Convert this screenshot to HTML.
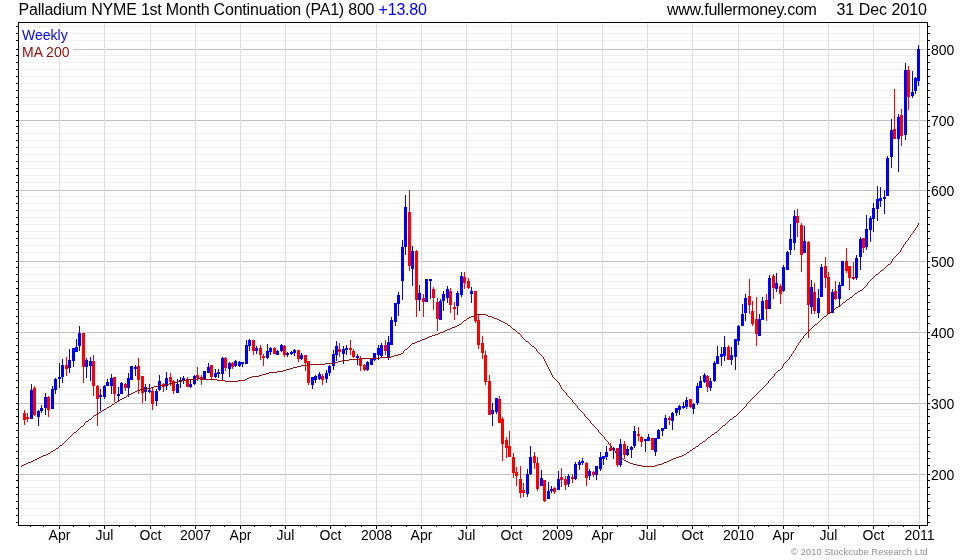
<!DOCTYPE html>
<html><head><meta charset="utf-8"><title>Palladium NYME 1st Month Continuation (PA1)</title>
<style>
html,body{margin:0;padding:0;background:#fff;}
body{width:980px;height:560px;overflow:hidden;position:relative;font-family:"Liberation Sans",Arial,sans-serif;color:#000;}
#chart{position:absolute;left:0;top:0;width:980px;height:560px;}
.t{position:absolute;white-space:nowrap;line-height:1;}
.title{font-size:16px;top:1.5px;}
.ax{font-size:14px;}
.xl{font-size:14px;top:528px;width:60px;text-align:center;}
.leg{font-size:14px;left:22px;}
.copy{font-size:9.3px;color:#8c8c8c;letter-spacing:0.1px;top:548px;left:791px;}
</style></head><body>
<svg id="chart" width="980" height="560" viewBox="0 0 980 560" shape-rendering="crispEdges">
<g fill="#f0f0f0">
<rect x="20" y="26" width="906" height="1"/>
<rect x="20" y="33" width="906" height="1"/>
<rect x="20" y="40" width="906" height="1"/>
<rect x="20" y="55" width="906" height="1"/>
<rect x="20" y="62" width="906" height="1"/>
<rect x="20" y="69" width="906" height="1"/>
<rect x="20" y="76" width="906" height="1"/>
<rect x="20" y="83" width="906" height="1"/>
<rect x="20" y="90" width="906" height="1"/>
<rect x="20" y="97" width="906" height="1"/>
<rect x="20" y="104" width="906" height="1"/>
<rect x="20" y="111" width="906" height="1"/>
<rect x="20" y="126" width="906" height="1"/>
<rect x="20" y="133" width="906" height="1"/>
<rect x="20" y="140" width="906" height="1"/>
<rect x="20" y="147" width="906" height="1"/>
<rect x="20" y="154" width="906" height="1"/>
<rect x="20" y="161" width="906" height="1"/>
<rect x="20" y="168" width="906" height="1"/>
<rect x="20" y="175" width="906" height="1"/>
<rect x="20" y="182" width="906" height="1"/>
<rect x="20" y="196" width="906" height="1"/>
<rect x="20" y="203" width="906" height="1"/>
<rect x="20" y="210" width="906" height="1"/>
<rect x="20" y="217" width="906" height="1"/>
<rect x="20" y="224" width="906" height="1"/>
<rect x="20" y="231" width="906" height="1"/>
<rect x="20" y="238" width="906" height="1"/>
<rect x="20" y="245" width="906" height="1"/>
<rect x="20" y="252" width="906" height="1"/>
<rect x="20" y="267" width="906" height="1"/>
<rect x="20" y="274" width="906" height="1"/>
<rect x="20" y="281" width="906" height="1"/>
<rect x="20" y="288" width="906" height="1"/>
<rect x="20" y="295" width="906" height="1"/>
<rect x="20" y="302" width="906" height="1"/>
<rect x="20" y="309" width="906" height="1"/>
<rect x="20" y="316" width="906" height="1"/>
<rect x="20" y="323" width="906" height="1"/>
<rect x="20" y="338" width="906" height="1"/>
<rect x="20" y="345" width="906" height="1"/>
<rect x="20" y="352" width="906" height="1"/>
<rect x="20" y="359" width="906" height="1"/>
<rect x="20" y="366" width="906" height="1"/>
<rect x="20" y="373" width="906" height="1"/>
<rect x="20" y="380" width="906" height="1"/>
<rect x="20" y="387" width="906" height="1"/>
<rect x="20" y="394" width="906" height="1"/>
<rect x="20" y="409" width="906" height="1"/>
<rect x="20" y="416" width="906" height="1"/>
<rect x="20" y="423" width="906" height="1"/>
<rect x="20" y="430" width="906" height="1"/>
<rect x="20" y="437" width="906" height="1"/>
<rect x="20" y="444" width="906" height="1"/>
<rect x="20" y="451" width="906" height="1"/>
<rect x="20" y="458" width="906" height="1"/>
<rect x="20" y="465" width="906" height="1"/>
<rect x="20" y="480" width="906" height="1"/>
<rect x="20" y="487" width="906" height="1"/>
<rect x="20" y="494" width="906" height="1"/>
<rect x="20" y="501" width="906" height="1"/>
<rect x="20" y="508" width="906" height="1"/>
<rect x="20" y="515" width="906" height="1"/>
<rect x="20" y="522" width="906" height="1"/>
</g>
<g fill="#c0c0c0">
<rect x="19" y="49" width="908" height="1"/>
<rect x="19" y="120" width="908" height="1"/>
<rect x="19" y="190" width="908" height="1"/>
<rect x="19" y="261" width="908" height="1"/>
<rect x="19" y="332" width="908" height="1"/>
<rect x="19" y="403" width="908" height="1"/>
<rect x="19" y="474" width="908" height="1"/>
</g>
<g fill="#dedede">
<rect x="59" y="23" width="1" height="501"/>
<rect x="104" y="23" width="1" height="501"/>
<rect x="150" y="23" width="1" height="501"/>
<rect x="195" y="23" width="1" height="501"/>
<rect x="240" y="23" width="1" height="501"/>
<rect x="285" y="23" width="1" height="501"/>
<rect x="330" y="23" width="1" height="501"/>
<rect x="376" y="23" width="1" height="501"/>
<rect x="421" y="23" width="1" height="501"/>
<rect x="466" y="23" width="1" height="501"/>
<rect x="511" y="23" width="1" height="501"/>
<rect x="557" y="23" width="1" height="501"/>
<rect x="602" y="23" width="1" height="501"/>
<rect x="647" y="23" width="1" height="501"/>
<rect x="692" y="23" width="1" height="501"/>
<rect x="738" y="23" width="1" height="501"/>
<rect x="783" y="23" width="1" height="501"/>
<rect x="828" y="23" width="1" height="501"/>
<rect x="873" y="23" width="1" height="501"/>
<rect x="919" y="23" width="1" height="501"/>
</g>
<rect x="20" y="28" width="51" height="15" fill="#fff"/><rect x="20" y="45" width="53" height="13" fill="#fff"/>
<g fill="#000">
<rect x="18" y="22" width="910" height="1"/>
<rect x="18" y="525" width="910" height="1"/>
<rect x="18" y="22" width="1" height="504"/>
<rect x="927" y="22" width="1" height="504"/>
<rect x="16" y="26" width="2" height="1"/>
<rect x="928" y="26" width="2" height="1"/>
<rect x="16" y="33" width="2" height="1"/>
<rect x="928" y="33" width="2" height="1"/>
<rect x="16" y="40" width="2" height="1"/>
<rect x="928" y="40" width="2" height="1"/>
<rect x="16" y="55" width="2" height="1"/>
<rect x="928" y="55" width="2" height="1"/>
<rect x="16" y="62" width="2" height="1"/>
<rect x="928" y="62" width="2" height="1"/>
<rect x="16" y="69" width="2" height="1"/>
<rect x="928" y="69" width="2" height="1"/>
<rect x="16" y="76" width="2" height="1"/>
<rect x="928" y="76" width="2" height="1"/>
<rect x="16" y="83" width="2" height="1"/>
<rect x="928" y="83" width="2" height="1"/>
<rect x="16" y="90" width="2" height="1"/>
<rect x="928" y="90" width="2" height="1"/>
<rect x="16" y="97" width="2" height="1"/>
<rect x="928" y="97" width="2" height="1"/>
<rect x="16" y="104" width="2" height="1"/>
<rect x="928" y="104" width="2" height="1"/>
<rect x="16" y="111" width="2" height="1"/>
<rect x="928" y="111" width="2" height="1"/>
<rect x="16" y="126" width="2" height="1"/>
<rect x="928" y="126" width="2" height="1"/>
<rect x="16" y="133" width="2" height="1"/>
<rect x="928" y="133" width="2" height="1"/>
<rect x="16" y="140" width="2" height="1"/>
<rect x="928" y="140" width="2" height="1"/>
<rect x="16" y="147" width="2" height="1"/>
<rect x="928" y="147" width="2" height="1"/>
<rect x="16" y="154" width="2" height="1"/>
<rect x="928" y="154" width="2" height="1"/>
<rect x="16" y="161" width="2" height="1"/>
<rect x="928" y="161" width="2" height="1"/>
<rect x="16" y="168" width="2" height="1"/>
<rect x="928" y="168" width="2" height="1"/>
<rect x="16" y="175" width="2" height="1"/>
<rect x="928" y="175" width="2" height="1"/>
<rect x="16" y="182" width="2" height="1"/>
<rect x="928" y="182" width="2" height="1"/>
<rect x="16" y="196" width="2" height="1"/>
<rect x="928" y="196" width="2" height="1"/>
<rect x="16" y="203" width="2" height="1"/>
<rect x="928" y="203" width="2" height="1"/>
<rect x="16" y="210" width="2" height="1"/>
<rect x="928" y="210" width="2" height="1"/>
<rect x="16" y="217" width="2" height="1"/>
<rect x="928" y="217" width="2" height="1"/>
<rect x="16" y="224" width="2" height="1"/>
<rect x="928" y="224" width="2" height="1"/>
<rect x="16" y="231" width="2" height="1"/>
<rect x="928" y="231" width="2" height="1"/>
<rect x="16" y="238" width="2" height="1"/>
<rect x="928" y="238" width="2" height="1"/>
<rect x="16" y="245" width="2" height="1"/>
<rect x="928" y="245" width="2" height="1"/>
<rect x="16" y="252" width="2" height="1"/>
<rect x="928" y="252" width="2" height="1"/>
<rect x="16" y="267" width="2" height="1"/>
<rect x="928" y="267" width="2" height="1"/>
<rect x="16" y="274" width="2" height="1"/>
<rect x="928" y="274" width="2" height="1"/>
<rect x="16" y="281" width="2" height="1"/>
<rect x="928" y="281" width="2" height="1"/>
<rect x="16" y="288" width="2" height="1"/>
<rect x="928" y="288" width="2" height="1"/>
<rect x="16" y="295" width="2" height="1"/>
<rect x="928" y="295" width="2" height="1"/>
<rect x="16" y="302" width="2" height="1"/>
<rect x="928" y="302" width="2" height="1"/>
<rect x="16" y="309" width="2" height="1"/>
<rect x="928" y="309" width="2" height="1"/>
<rect x="16" y="316" width="2" height="1"/>
<rect x="928" y="316" width="2" height="1"/>
<rect x="16" y="323" width="2" height="1"/>
<rect x="928" y="323" width="2" height="1"/>
<rect x="16" y="338" width="2" height="1"/>
<rect x="928" y="338" width="2" height="1"/>
<rect x="16" y="345" width="2" height="1"/>
<rect x="928" y="345" width="2" height="1"/>
<rect x="16" y="352" width="2" height="1"/>
<rect x="928" y="352" width="2" height="1"/>
<rect x="16" y="359" width="2" height="1"/>
<rect x="928" y="359" width="2" height="1"/>
<rect x="16" y="366" width="2" height="1"/>
<rect x="928" y="366" width="2" height="1"/>
<rect x="16" y="373" width="2" height="1"/>
<rect x="928" y="373" width="2" height="1"/>
<rect x="16" y="380" width="2" height="1"/>
<rect x="928" y="380" width="2" height="1"/>
<rect x="16" y="387" width="2" height="1"/>
<rect x="928" y="387" width="2" height="1"/>
<rect x="16" y="394" width="2" height="1"/>
<rect x="928" y="394" width="2" height="1"/>
<rect x="16" y="409" width="2" height="1"/>
<rect x="928" y="409" width="2" height="1"/>
<rect x="16" y="416" width="2" height="1"/>
<rect x="928" y="416" width="2" height="1"/>
<rect x="16" y="423" width="2" height="1"/>
<rect x="928" y="423" width="2" height="1"/>
<rect x="16" y="430" width="2" height="1"/>
<rect x="928" y="430" width="2" height="1"/>
<rect x="16" y="437" width="2" height="1"/>
<rect x="928" y="437" width="2" height="1"/>
<rect x="16" y="444" width="2" height="1"/>
<rect x="928" y="444" width="2" height="1"/>
<rect x="16" y="451" width="2" height="1"/>
<rect x="928" y="451" width="2" height="1"/>
<rect x="16" y="458" width="2" height="1"/>
<rect x="928" y="458" width="2" height="1"/>
<rect x="16" y="465" width="2" height="1"/>
<rect x="928" y="465" width="2" height="1"/>
<rect x="16" y="480" width="2" height="1"/>
<rect x="928" y="480" width="2" height="1"/>
<rect x="16" y="487" width="2" height="1"/>
<rect x="928" y="487" width="2" height="1"/>
<rect x="16" y="494" width="2" height="1"/>
<rect x="928" y="494" width="2" height="1"/>
<rect x="16" y="501" width="2" height="1"/>
<rect x="928" y="501" width="2" height="1"/>
<rect x="16" y="508" width="2" height="1"/>
<rect x="928" y="508" width="2" height="1"/>
<rect x="16" y="515" width="2" height="1"/>
<rect x="928" y="515" width="2" height="1"/>
<rect x="16" y="522" width="2" height="1"/>
<rect x="928" y="522" width="2" height="1"/>
<rect x="16" y="49" width="2" height="1"/>
<rect x="928" y="49" width="2" height="1"/>
<rect x="16" y="120" width="2" height="1"/>
<rect x="928" y="120" width="2" height="1"/>
<rect x="16" y="190" width="2" height="1"/>
<rect x="928" y="190" width="2" height="1"/>
<rect x="16" y="261" width="2" height="1"/>
<rect x="928" y="261" width="2" height="1"/>
<rect x="16" y="332" width="2" height="1"/>
<rect x="928" y="332" width="2" height="1"/>
<rect x="16" y="403" width="2" height="1"/>
<rect x="928" y="403" width="2" height="1"/>
<rect x="16" y="474" width="2" height="1"/>
<rect x="928" y="474" width="2" height="1"/>
<rect x="30" y="526" width="1" height="1"/>
<rect x="43" y="526" width="1" height="1"/>
<rect x="73" y="526" width="1" height="1"/>
<rect x="89" y="526" width="1" height="1"/>
<rect x="119" y="526" width="1" height="1"/>
<rect x="135" y="526" width="1" height="1"/>
<rect x="164" y="526" width="1" height="1"/>
<rect x="180" y="526" width="1" height="1"/>
<rect x="210" y="526" width="1" height="1"/>
<rect x="224" y="526" width="1" height="1"/>
<rect x="254" y="526" width="1" height="1"/>
<rect x="270" y="526" width="1" height="1"/>
<rect x="300" y="526" width="1" height="1"/>
<rect x="316" y="526" width="1" height="1"/>
<rect x="345" y="526" width="1" height="1"/>
<rect x="361" y="526" width="1" height="1"/>
<rect x="391" y="526" width="1" height="1"/>
<rect x="406" y="526" width="1" height="1"/>
<rect x="436" y="526" width="1" height="1"/>
<rect x="451" y="526" width="1" height="1"/>
<rect x="482" y="526" width="1" height="1"/>
<rect x="497" y="526" width="1" height="1"/>
<rect x="527" y="526" width="1" height="1"/>
<rect x="541" y="526" width="1" height="1"/>
<rect x="573" y="526" width="1" height="1"/>
<rect x="587" y="526" width="1" height="1"/>
<rect x="617" y="526" width="1" height="1"/>
<rect x="631" y="526" width="1" height="1"/>
<rect x="663" y="526" width="1" height="1"/>
<rect x="677" y="526" width="1" height="1"/>
<rect x="708" y="526" width="1" height="1"/>
<rect x="722" y="526" width="1" height="1"/>
<rect x="754" y="526" width="1" height="1"/>
<rect x="768" y="526" width="1" height="1"/>
<rect x="798" y="526" width="1" height="1"/>
<rect x="813" y="526" width="1" height="1"/>
<rect x="844" y="526" width="1" height="1"/>
<rect x="858" y="526" width="1" height="1"/>
<rect x="888" y="526" width="1" height="1"/>
<rect x="903" y="526" width="1" height="1"/>
<rect x="59" y="526" width="1" height="3"/>
<rect x="104" y="526" width="1" height="3"/>
<rect x="150" y="526" width="1" height="3"/>
<rect x="195" y="526" width="1" height="3"/>
<rect x="240" y="526" width="1" height="3"/>
<rect x="285" y="526" width="1" height="3"/>
<rect x="330" y="526" width="1" height="3"/>
<rect x="376" y="526" width="1" height="3"/>
<rect x="421" y="526" width="1" height="3"/>
<rect x="466" y="526" width="1" height="3"/>
<rect x="511" y="526" width="1" height="3"/>
<rect x="557" y="526" width="1" height="3"/>
<rect x="602" y="526" width="1" height="3"/>
<rect x="647" y="526" width="1" height="3"/>
<rect x="692" y="526" width="1" height="3"/>
<rect x="738" y="526" width="1" height="3"/>
<rect x="783" y="526" width="1" height="3"/>
<rect x="828" y="526" width="1" height="3"/>
<rect x="873" y="526" width="1" height="3"/>
<rect x="919" y="526" width="1" height="3"/>
</g>
<g fill="#ff0000">
<rect x="24" y="410" width="1" height="15"/><rect x="23" y="413" width="3" height="7"/>
<rect x="27" y="413" width="1" height="9"/><rect x="26" y="417" width="3" height="2"/>
</g>
<g fill="#0000ff">
<rect x="31" y="384" width="1" height="35"/><rect x="30" y="390" width="3" height="29"/>
</g>
<g fill="#ff0000">
<rect x="34" y="386" width="1" height="30"/><rect x="33" y="388" width="3" height="27"/>
</g>
<g fill="#0000ff">
<rect x="38" y="410" width="1" height="16"/><rect x="37" y="411" width="3" height="6"/>
<rect x="41" y="405" width="1" height="8"/><rect x="40" y="408" width="3" height="3"/>
<rect x="45" y="393" width="1" height="22"/><rect x="44" y="397" width="3" height="11"/>
</g>
<g fill="#ff0000">
<rect x="48" y="396" width="1" height="21"/><rect x="47" y="397" width="3" height="13"/>
</g>
<g fill="#0000ff">
<rect x="52" y="386" width="1" height="23"/><rect x="51" y="389" width="3" height="20"/>
<rect x="55" y="378" width="1" height="16"/><rect x="54" y="379" width="3" height="11"/>
<rect x="59" y="363" width="1" height="25"/><rect x="58" y="377" width="3" height="2"/>
<rect x="62" y="359" width="1" height="24"/><rect x="61" y="365" width="3" height="12"/>
</g>
<g fill="#ff0000">
<rect x="66" y="357" width="1" height="19"/><rect x="65" y="365" width="3" height="4"/>
</g>
<g fill="#0000ff">
<rect x="69" y="349" width="1" height="24"/><rect x="68" y="360" width="3" height="8"/>
<rect x="73" y="348" width="1" height="19"/><rect x="72" y="348" width="3" height="13"/>
<rect x="76" y="339" width="1" height="13"/><rect x="75" y="347" width="3" height="5"/>
<rect x="79" y="326" width="1" height="25"/><rect x="78" y="333" width="3" height="13"/>
</g>
<g fill="#ff0000">
<rect x="83" y="333" width="1" height="50"/><rect x="82" y="333" width="3" height="34"/>
</g>
<g fill="#0000ff">
<rect x="86" y="358" width="1" height="20"/><rect x="85" y="360" width="3" height="7"/>
<rect x="90" y="357" width="1" height="24"/><rect x="89" y="361" width="3" height="5"/>
</g>
<g fill="#ff0000">
<rect x="93" y="355" width="1" height="41"/><rect x="92" y="361" width="3" height="25"/>
<rect x="97" y="385" width="1" height="41"/><rect x="96" y="386" width="3" height="13"/>
</g>
<g fill="#0000ff">
<rect x="100" y="389" width="1" height="22"/><rect x="99" y="395" width="3" height="2"/>
<rect x="104" y="385" width="1" height="14"/><rect x="103" y="386" width="3" height="11"/>
<rect x="107" y="379" width="1" height="7"/><rect x="106" y="382" width="3" height="4"/>
<rect x="111" y="374" width="1" height="20"/><rect x="110" y="378" width="3" height="8"/>
</g>
<g fill="#ff0000">
<rect x="114" y="377" width="1" height="25"/><rect x="113" y="377" width="3" height="17"/>
</g>
<g fill="#0000ff">
<rect x="118" y="387" width="1" height="14"/><rect x="117" y="394" width="3" height="2"/>
<rect x="121" y="382" width="1" height="12"/><rect x="120" y="383" width="3" height="11"/>
</g>
<g fill="#ff0000">
<rect x="125" y="383" width="1" height="8"/><rect x="124" y="384" width="3" height="4"/>
</g>
<g fill="#0000ff">
<rect x="128" y="373" width="1" height="24"/><rect x="127" y="378" width="3" height="10"/>
<rect x="131" y="366" width="1" height="14"/><rect x="130" y="366" width="3" height="14"/>
<rect x="135" y="365" width="1" height="11"/><rect x="134" y="367" width="3" height="2"/>
</g>
<g fill="#ff0000">
<rect x="138" y="358" width="1" height="36"/><rect x="137" y="366" width="3" height="14"/>
<rect x="142" y="376" width="1" height="27"/><rect x="141" y="376" width="3" height="17"/>
</g>
<g fill="#0000ff">
<rect x="145" y="384" width="1" height="17"/><rect x="144" y="387" width="3" height="5"/>
<rect x="149" y="384" width="1" height="9"/><rect x="148" y="390" width="3" height="2"/>
</g>
<g fill="#ff0000">
<rect x="152" y="388" width="1" height="22"/><rect x="151" y="391" width="3" height="13"/>
</g>
<g fill="#0000ff">
<rect x="156" y="389" width="1" height="17"/><rect x="155" y="391" width="3" height="10"/>
<rect x="159" y="375" width="1" height="16"/><rect x="158" y="381" width="3" height="9"/>
</g>
<g fill="#ff0000">
<rect x="163" y="383" width="1" height="9"/><rect x="162" y="384" width="3" height="3"/>
</g>
<g fill="#0000ff">
<rect x="166" y="372" width="1" height="18"/><rect x="165" y="378" width="3" height="8"/>
</g>
<g fill="#ff0000">
<rect x="170" y="373" width="1" height="13"/><rect x="169" y="377" width="3" height="5"/>
<rect x="173" y="380" width="1" height="14"/><rect x="172" y="381" width="3" height="10"/>
</g>
<g fill="#0000ff">
<rect x="177" y="379" width="1" height="14"/><rect x="176" y="384" width="3" height="9"/>
<rect x="180" y="377" width="1" height="11"/><rect x="179" y="380" width="3" height="2"/>
<rect x="183" y="376" width="1" height="8"/><rect x="182" y="378" width="3" height="2"/>
</g>
<g fill="#ff0000">
<rect x="187" y="377" width="1" height="10"/><rect x="186" y="379" width="3" height="8"/>
</g>
<g fill="#0000ff">
<rect x="190" y="380" width="1" height="8"/><rect x="189" y="384" width="3" height="3"/>
<rect x="194" y="375" width="1" height="10"/><rect x="193" y="376" width="3" height="8"/>
</g>
<g fill="#ff0000">
<rect x="197" y="367" width="1" height="14"/><rect x="196" y="375" width="3" height="3"/>
<rect x="201" y="375" width="1" height="10"/><rect x="200" y="377" width="3" height="2"/>
</g>
<g fill="#0000ff">
<rect x="204" y="371" width="1" height="8"/><rect x="203" y="371" width="3" height="8"/>
<rect x="208" y="363" width="1" height="10"/><rect x="207" y="367" width="3" height="6"/>
</g>
<g fill="#ff0000">
<rect x="211" y="365" width="1" height="14"/><rect x="210" y="365" width="3" height="12"/>
</g>
<g fill="#0000ff">
<rect x="215" y="369" width="1" height="9"/><rect x="214" y="373" width="3" height="4"/>
<rect x="218" y="369" width="1" height="9"/><rect x="217" y="372" width="3" height="2"/>
<rect x="222" y="357" width="1" height="23"/><rect x="221" y="358" width="3" height="16"/>
</g>
<g fill="#ff0000">
<rect x="225" y="357" width="1" height="14"/><rect x="224" y="358" width="3" height="10"/>
</g>
<g fill="#0000ff">
<rect x="229" y="362" width="1" height="15"/><rect x="228" y="363" width="3" height="6"/>
</g>
<g fill="#ff0000">
<rect x="232" y="362" width="1" height="7"/><rect x="231" y="363" width="3" height="4"/>
</g>
<g fill="#0000ff">
<rect x="235" y="360" width="1" height="7"/><rect x="234" y="361" width="3" height="5"/>
<rect x="239" y="361" width="1" height="6"/><rect x="238" y="362" width="3" height="4"/>
<rect x="242" y="362" width="1" height="5"/><rect x="241" y="362" width="3" height="2"/>
<rect x="246" y="340" width="1" height="24"/><rect x="245" y="345" width="3" height="19"/>
<rect x="249" y="339" width="1" height="12"/><rect x="248" y="340" width="3" height="6"/>
</g>
<g fill="#ff0000">
<rect x="253" y="340" width="1" height="15"/><rect x="252" y="340" width="3" height="11"/>
</g>
<g fill="#0000ff">
<rect x="256" y="346" width="1" height="8"/><rect x="255" y="348" width="3" height="3"/>
</g>
<g fill="#ff0000">
<rect x="260" y="345" width="1" height="15"/><rect x="259" y="348" width="3" height="7"/>
<rect x="263" y="354" width="1" height="12"/><rect x="262" y="356" width="3" height="2"/>
</g>
<g fill="#0000ff">
<rect x="267" y="344" width="1" height="15"/><rect x="266" y="351" width="3" height="7"/>
<rect x="270" y="347" width="1" height="8"/><rect x="269" y="348" width="3" height="4"/>
</g>
<g fill="#ff0000">
<rect x="274" y="347" width="1" height="7"/><rect x="273" y="348" width="3" height="6"/>
</g>
<g fill="#0000ff">
<rect x="277" y="350" width="1" height="5"/><rect x="276" y="351" width="3" height="4"/>
<rect x="281" y="344" width="1" height="8"/><rect x="280" y="345" width="3" height="6"/>
</g>
<g fill="#ff0000">
<rect x="284" y="345" width="1" height="12"/><rect x="283" y="346" width="3" height="9"/>
</g>
<g fill="#0000ff">
<rect x="287" y="352" width="1" height="5"/><rect x="286" y="353" width="3" height="2"/>
<rect x="291" y="351" width="1" height="4"/><rect x="290" y="352" width="3" height="2"/>
<rect x="294" y="349" width="1" height="7"/><rect x="293" y="350" width="3" height="3"/>
</g>
<g fill="#ff0000">
<rect x="298" y="350" width="1" height="12"/><rect x="297" y="350" width="3" height="9"/>
</g>
<g fill="#0000ff">
<rect x="301" y="353" width="1" height="7"/><rect x="300" y="355" width="3" height="4"/>
</g>
<g fill="#ff0000">
<rect x="305" y="355" width="1" height="16"/><rect x="304" y="355" width="3" height="8"/>
<rect x="308" y="361" width="1" height="24"/><rect x="307" y="361" width="3" height="22"/>
</g>
<g fill="#0000ff">
<rect x="312" y="377" width="1" height="12"/><rect x="311" y="377" width="3" height="8"/>
<rect x="315" y="375" width="1" height="8"/><rect x="314" y="376" width="3" height="4"/>
<rect x="319" y="372" width="1" height="8"/><rect x="318" y="374" width="3" height="5"/>
</g>
<g fill="#ff0000">
<rect x="322" y="374" width="1" height="11"/><rect x="321" y="376" width="3" height="4"/>
</g>
<g fill="#0000ff">
<rect x="326" y="370" width="1" height="13"/><rect x="325" y="373" width="3" height="6"/>
<rect x="329" y="365" width="1" height="11"/><rect x="328" y="366" width="3" height="7"/>
<rect x="333" y="350" width="1" height="20"/><rect x="332" y="354" width="3" height="12"/>
<rect x="336" y="341" width="1" height="20"/><rect x="335" y="346" width="3" height="9"/>
</g>
<g fill="#ff0000">
<rect x="339" y="343" width="1" height="14"/><rect x="338" y="349" width="3" height="3"/>
</g>
<g fill="#0000ff">
<rect x="343" y="346" width="1" height="18"/><rect x="342" y="349" width="3" height="5"/>
<rect x="346" y="345" width="1" height="10"/><rect x="345" y="348" width="3" height="2"/>
</g>
<g fill="#ff0000">
<rect x="350" y="340" width="1" height="15"/><rect x="349" y="348" width="3" height="2"/>
<rect x="353" y="349" width="1" height="9"/><rect x="352" y="351" width="3" height="6"/>
</g>
<g fill="#0000ff">
<rect x="357" y="354" width="1" height="11"/><rect x="356" y="356" width="3" height="2"/>
</g>
<g fill="#ff0000">
<rect x="360" y="356" width="1" height="15"/><rect x="359" y="358" width="3" height="8"/>
<rect x="364" y="364" width="1" height="7"/><rect x="363" y="365" width="3" height="5"/>
</g>
<g fill="#0000ff">
<rect x="367" y="361" width="1" height="10"/><rect x="366" y="362" width="3" height="8"/>
<rect x="371" y="359" width="1" height="6"/><rect x="370" y="359" width="3" height="6"/>
<rect x="374" y="353" width="1" height="8"/><rect x="373" y="353" width="3" height="7"/>
<rect x="378" y="345" width="1" height="15"/><rect x="377" y="348" width="3" height="7"/>
<rect x="381" y="343" width="1" height="14"/><rect x="380" y="345" width="3" height="11"/>
</g>
<g fill="#ff0000">
<rect x="385" y="340" width="1" height="15"/><rect x="384" y="345" width="3" height="6"/>
</g>
<g fill="#0000ff">
<rect x="388" y="336" width="1" height="24"/><rect x="387" y="342" width="3" height="16"/>
<rect x="391" y="317" width="1" height="28"/><rect x="390" y="320" width="3" height="25"/>
<rect x="395" y="303" width="1" height="23"/><rect x="394" y="303" width="3" height="19"/>
<rect x="398" y="292" width="1" height="24"/><rect x="397" y="295" width="3" height="9"/>
<rect x="402" y="240" width="1" height="60"/><rect x="401" y="247" width="3" height="34"/>
<rect x="405" y="195" width="1" height="60"/><rect x="404" y="207" width="3" height="40"/>
</g>
<g fill="#ff0000">
<rect x="409" y="190" width="1" height="81"/><rect x="408" y="212" width="3" height="54"/>
</g>
<g fill="#0000ff">
<rect x="412" y="246" width="1" height="40"/><rect x="411" y="251" width="3" height="18"/>
</g>
<g fill="#ff0000">
<rect x="416" y="250" width="1" height="67"/><rect x="415" y="251" width="3" height="49"/>
</g>
<g fill="#0000ff">
<rect x="419" y="285" width="1" height="26"/><rect x="418" y="293" width="3" height="7"/>
</g>
<g fill="#ff0000">
<rect x="423" y="294" width="1" height="23"/><rect x="422" y="298" width="3" height="4"/>
</g>
<g fill="#0000ff">
<rect x="426" y="279" width="1" height="23"/><rect x="425" y="279" width="3" height="23"/>
<rect x="430" y="279" width="1" height="20"/><rect x="429" y="279" width="3" height="2"/>
</g>
<g fill="#ff0000">
<rect x="433" y="287" width="1" height="23"/><rect x="432" y="289" width="3" height="9"/>
<rect x="437" y="298" width="1" height="33"/><rect x="436" y="302" width="3" height="17"/>
</g>
<g fill="#0000ff">
<rect x="440" y="299" width="1" height="21"/><rect x="439" y="301" width="3" height="19"/>
<rect x="443" y="291" width="1" height="20"/><rect x="442" y="294" width="3" height="7"/>
<rect x="447" y="286" width="1" height="17"/><rect x="446" y="289" width="3" height="9"/>
</g>
<g fill="#ff0000">
<rect x="450" y="288" width="1" height="25"/><rect x="449" y="291" width="3" height="14"/>
<rect x="454" y="302" width="1" height="18"/><rect x="453" y="307" width="3" height="2"/>
</g>
<g fill="#0000ff">
<rect x="457" y="291" width="1" height="24"/><rect x="456" y="293" width="3" height="13"/>
<rect x="461" y="272" width="1" height="25"/><rect x="460" y="276" width="3" height="19"/>
</g>
<g fill="#ff0000">
<rect x="464" y="272" width="1" height="17"/><rect x="463" y="277" width="3" height="6"/>
<rect x="468" y="278" width="1" height="11"/><rect x="467" y="281" width="3" height="7"/>
</g>
<g fill="#0000ff">
<rect x="471" y="287" width="1" height="16"/><rect x="470" y="291" width="3" height="3"/>
</g>
<g fill="#ff0000">
<rect x="475" y="291" width="1" height="32"/><rect x="474" y="291" width="3" height="30"/>
<rect x="478" y="314" width="1" height="35"/><rect x="477" y="320" width="3" height="25"/>
<rect x="482" y="336" width="1" height="23"/><rect x="481" y="343" width="3" height="10"/>
<rect x="485" y="351" width="1" height="34"/><rect x="484" y="355" width="3" height="27"/>
<rect x="489" y="375" width="1" height="40"/><rect x="488" y="381" width="3" height="34"/>
</g>
<g fill="#0000ff">
<rect x="492" y="403" width="1" height="23"/><rect x="491" y="410" width="3" height="4"/>
<rect x="496" y="398" width="1" height="16"/><rect x="495" y="398" width="3" height="14"/>
</g>
<g fill="#ff0000">
<rect x="499" y="396" width="1" height="27"/><rect x="498" y="399" width="3" height="24"/>
<rect x="502" y="417" width="1" height="44"/><rect x="501" y="419" width="3" height="25"/>
<rect x="506" y="437" width="1" height="21"/><rect x="505" y="440" width="3" height="8"/>
<rect x="509" y="431" width="1" height="26"/><rect x="508" y="446" width="3" height="11"/>
<rect x="513" y="453" width="1" height="25"/><rect x="512" y="457" width="3" height="16"/>
<rect x="516" y="467" width="1" height="19"/><rect x="515" y="472" width="3" height="4"/>
<rect x="520" y="466" width="1" height="32"/><rect x="519" y="479" width="3" height="14"/>
<rect x="523" y="483" width="1" height="14"/><rect x="522" y="490" width="3" height="3"/>
</g>
<g fill="#0000ff">
<rect x="527" y="469" width="1" height="28"/><rect x="526" y="474" width="3" height="20"/>
<rect x="530" y="446" width="1" height="29"/><rect x="529" y="457" width="3" height="17"/>
</g>
<g fill="#ff0000">
<rect x="534" y="452" width="1" height="17"/><rect x="533" y="456" width="3" height="7"/>
<rect x="537" y="457" width="1" height="34"/><rect x="536" y="463" width="3" height="26"/>
</g>
<g fill="#0000ff">
<rect x="541" y="470" width="1" height="16"/><rect x="540" y="478" width="3" height="8"/>
</g>
<g fill="#ff0000">
<rect x="544" y="480" width="1" height="22"/><rect x="543" y="480" width="3" height="21"/>
</g>
<g fill="#0000ff">
<rect x="548" y="482" width="1" height="17"/><rect x="547" y="491" width="3" height="8"/>
<rect x="551" y="486" width="1" height="7"/><rect x="550" y="489" width="3" height="2"/>
</g>
<g fill="#ff0000">
<rect x="554" y="487" width="1" height="7"/><rect x="553" y="488" width="3" height="4"/>
</g>
<g fill="#0000ff">
<rect x="558" y="471" width="1" height="19"/><rect x="557" y="479" width="3" height="11"/>
</g>
<g fill="#ff0000">
<rect x="561" y="468" width="1" height="19"/><rect x="560" y="477" width="3" height="3"/>
<rect x="565" y="476" width="1" height="14"/><rect x="564" y="479" width="3" height="6"/>
</g>
<g fill="#0000ff">
<rect x="568" y="474" width="1" height="13"/><rect x="567" y="476" width="3" height="8"/>
</g>
<g fill="#ff0000">
<rect x="572" y="474" width="1" height="9"/><rect x="571" y="477" width="3" height="2"/>
</g>
<g fill="#0000ff">
<rect x="575" y="462" width="1" height="18"/><rect x="574" y="464" width="3" height="15"/>
<rect x="579" y="460" width="1" height="10"/><rect x="578" y="462" width="3" height="3"/>
<rect x="582" y="458" width="1" height="7"/><rect x="581" y="461" width="3" height="2"/>
</g>
<g fill="#ff0000">
<rect x="586" y="462" width="1" height="24"/><rect x="585" y="463" width="3" height="15"/>
</g>
<g fill="#0000ff">
<rect x="589" y="469" width="1" height="11"/><rect x="588" y="471" width="3" height="5"/>
</g>
<g fill="#ff0000">
<rect x="593" y="471" width="1" height="6"/><rect x="592" y="472" width="3" height="3"/>
</g>
<g fill="#0000ff">
<rect x="596" y="466" width="1" height="14"/><rect x="595" y="466" width="3" height="9"/>
<rect x="600" y="452" width="1" height="19"/><rect x="599" y="457" width="3" height="12"/>
<rect x="603" y="456" width="1" height="9"/><rect x="602" y="456" width="3" height="3"/>
<rect x="606" y="446" width="1" height="14"/><rect x="605" y="452" width="3" height="5"/>
</g>
<g fill="#ff0000">
<rect x="610" y="443" width="1" height="8"/><rect x="609" y="448" width="3" height="3"/>
</g>
<g fill="#0000ff">
<rect x="613" y="447" width="1" height="12"/><rect x="612" y="448" width="3" height="2"/>
</g>
<g fill="#ff0000">
<rect x="617" y="448" width="1" height="19"/><rect x="616" y="448" width="3" height="17"/>
</g>
<g fill="#0000ff">
<rect x="620" y="439" width="1" height="28"/><rect x="619" y="444" width="3" height="21"/>
</g>
<g fill="#ff0000">
<rect x="624" y="441" width="1" height="18"/><rect x="623" y="444" width="3" height="11"/>
</g>
<g fill="#0000ff">
<rect x="627" y="446" width="1" height="10"/><rect x="626" y="449" width="3" height="6"/>
<rect x="631" y="446" width="1" height="12"/><rect x="630" y="447" width="3" height="3"/>
<rect x="634" y="426" width="1" height="22"/><rect x="633" y="431" width="3" height="15"/>
</g>
<g fill="#ff0000">
<rect x="638" y="427" width="1" height="14"/><rect x="637" y="434" width="3" height="2"/>
<rect x="641" y="436" width="1" height="11"/><rect x="640" y="437" width="3" height="5"/>
</g>
<g fill="#0000ff">
<rect x="645" y="439" width="1" height="13"/><rect x="644" y="439" width="3" height="2"/>
<rect x="648" y="434" width="1" height="7"/><rect x="647" y="437" width="3" height="4"/>
</g>
<g fill="#ff0000">
<rect x="652" y="438" width="1" height="12"/><rect x="651" y="438" width="3" height="12"/>
</g>
<g fill="#0000ff">
<rect x="655" y="438" width="1" height="18"/><rect x="654" y="438" width="3" height="14"/>
<rect x="658" y="429" width="1" height="10"/><rect x="657" y="430" width="3" height="9"/>
<rect x="662" y="428" width="1" height="8"/><rect x="661" y="428" width="3" height="3"/>
<rect x="665" y="415" width="1" height="14"/><rect x="664" y="418" width="3" height="11"/>
</g>
<g fill="#ff0000">
<rect x="669" y="416" width="1" height="9"/><rect x="668" y="418" width="3" height="2"/>
</g>
<g fill="#0000ff">
<rect x="672" y="412" width="1" height="18"/><rect x="671" y="413" width="3" height="8"/>
<rect x="676" y="408" width="1" height="8"/><rect x="675" y="408" width="3" height="5"/>
<rect x="679" y="405" width="1" height="10"/><rect x="678" y="406" width="3" height="4"/>
<rect x="683" y="402" width="1" height="7"/><rect x="682" y="406" width="3" height="2"/>
<rect x="686" y="397" width="1" height="12"/><rect x="685" y="400" width="3" height="7"/>
</g>
<g fill="#ff0000">
<rect x="690" y="399" width="1" height="9"/><rect x="689" y="399" width="3" height="8"/>
</g>
<g fill="#0000ff">
<rect x="693" y="403" width="1" height="11"/><rect x="692" y="404" width="3" height="5"/>
<rect x="697" y="383" width="1" height="22"/><rect x="696" y="386" width="3" height="17"/>
<rect x="700" y="376" width="1" height="12"/><rect x="699" y="381" width="3" height="7"/>
<rect x="704" y="373" width="1" height="10"/><rect x="703" y="375" width="3" height="7"/>
</g>
<g fill="#ff0000">
<rect x="707" y="375" width="1" height="17"/><rect x="706" y="376" width="3" height="11"/>
</g>
<g fill="#0000ff">
<rect x="710" y="378" width="1" height="13"/><rect x="709" y="381" width="3" height="7"/>
<rect x="714" y="361" width="1" height="21"/><rect x="713" y="363" width="3" height="18"/>
<rect x="717" y="346" width="1" height="18"/><rect x="716" y="356" width="3" height="8"/>
<rect x="721" y="347" width="1" height="19"/><rect x="720" y="354" width="3" height="3"/>
<rect x="724" y="336" width="1" height="25"/><rect x="723" y="347" width="3" height="9"/>
</g>
<g fill="#ff0000">
<rect x="728" y="345" width="1" height="15"/><rect x="727" y="347" width="3" height="13"/>
</g>
<g fill="#0000ff">
<rect x="731" y="347" width="1" height="18"/><rect x="730" y="355" width="3" height="5"/>
<rect x="735" y="339" width="1" height="31"/><rect x="734" y="339" width="3" height="18"/>
<rect x="738" y="325" width="1" height="20"/><rect x="737" y="326" width="3" height="15"/>
<rect x="742" y="304" width="1" height="22"/><rect x="741" y="314" width="3" height="12"/>
<rect x="745" y="294" width="1" height="27"/><rect x="744" y="298" width="3" height="15"/>
</g>
<g fill="#ff0000">
<rect x="749" y="279" width="1" height="35"/><rect x="748" y="296" width="3" height="9"/>
<rect x="752" y="301" width="1" height="25"/><rect x="751" y="311" width="3" height="13"/>
<rect x="756" y="297" width="1" height="49"/><rect x="755" y="319" width="3" height="15"/>
</g>
<g fill="#0000ff">
<rect x="759" y="314" width="1" height="22"/><rect x="758" y="319" width="3" height="17"/>
<rect x="762" y="297" width="1" height="23"/><rect x="761" y="301" width="3" height="19"/>
</g>
<g fill="#ff0000">
<rect x="766" y="294" width="1" height="27"/><rect x="765" y="300" width="3" height="9"/>
</g>
<g fill="#0000ff">
<rect x="769" y="275" width="1" height="34"/><rect x="768" y="278" width="3" height="31"/>
</g>
<g fill="#ff0000">
<rect x="773" y="274" width="1" height="25"/><rect x="772" y="276" width="3" height="12"/>
</g>
<g fill="#0000ff">
<rect x="776" y="273" width="1" height="19"/><rect x="775" y="283" width="3" height="6"/>
</g>
<g fill="#ff0000">
<rect x="780" y="284" width="1" height="20"/><rect x="779" y="286" width="3" height="8"/>
</g>
<g fill="#0000ff">
<rect x="783" y="265" width="1" height="27"/><rect x="782" y="267" width="3" height="24"/>
<rect x="787" y="251" width="1" height="19"/><rect x="786" y="252" width="3" height="18"/>
<rect x="790" y="224" width="1" height="31"/><rect x="789" y="239" width="3" height="11"/>
<rect x="794" y="210" width="1" height="40"/><rect x="793" y="216" width="3" height="27"/>
</g>
<g fill="#ff0000">
<rect x="797" y="209" width="1" height="28"/><rect x="796" y="216" width="3" height="7"/>
<rect x="801" y="223" width="1" height="49"/><rect x="800" y="225" width="3" height="30"/>
</g>
<g fill="#0000ff">
<rect x="804" y="226" width="1" height="27"/><rect x="803" y="241" width="3" height="12"/>
</g>
<g fill="#ff0000">
<rect x="808" y="241" width="1" height="97"/><rect x="807" y="242" width="3" height="63"/>
</g>
<g fill="#0000ff">
<rect x="811" y="280" width="1" height="34"/><rect x="810" y="287" width="3" height="20"/>
</g>
<g fill="#ff0000">
<rect x="814" y="283" width="1" height="31"/><rect x="813" y="292" width="3" height="19"/>
</g>
<g fill="#0000ff">
<rect x="818" y="289" width="1" height="29"/><rect x="817" y="298" width="3" height="15"/>
<rect x="821" y="264" width="1" height="33"/><rect x="820" y="267" width="3" height="30"/>
</g>
<g fill="#ff0000">
<rect x="825" y="257" width="1" height="31"/><rect x="824" y="266" width="3" height="12"/>
<rect x="828" y="272" width="1" height="42"/><rect x="827" y="277" width="3" height="37"/>
</g>
<g fill="#0000ff">
<rect x="832" y="289" width="1" height="24"/><rect x="831" y="292" width="3" height="21"/>
</g>
<g fill="#ff0000">
<rect x="835" y="281" width="1" height="19"/><rect x="834" y="291" width="3" height="8"/>
</g>
<g fill="#0000ff">
<rect x="839" y="282" width="1" height="25"/><rect x="838" y="285" width="3" height="14"/>
<rect x="842" y="261" width="1" height="25"/><rect x="841" y="261" width="3" height="25"/>
</g>
<g fill="#ff0000">
<rect x="846" y="248" width="1" height="25"/><rect x="845" y="261" width="3" height="10"/>
<rect x="849" y="266" width="1" height="24"/><rect x="848" y="266" width="3" height="12"/>
<rect x="853" y="262" width="1" height="18"/><rect x="852" y="277" width="3" height="2"/>
</g>
<g fill="#0000ff">
<rect x="856" y="255" width="1" height="25"/><rect x="855" y="258" width="3" height="20"/>
<rect x="860" y="237" width="1" height="33"/><rect x="859" y="239" width="3" height="18"/>
</g>
<g fill="#ff0000">
<rect x="863" y="238" width="1" height="15"/><rect x="862" y="238" width="3" height="10"/>
</g>
<g fill="#0000ff">
<rect x="866" y="215" width="1" height="35"/><rect x="865" y="229" width="3" height="18"/>
<rect x="870" y="216" width="1" height="26"/><rect x="869" y="218" width="3" height="12"/>
<rect x="873" y="203" width="1" height="29"/><rect x="872" y="208" width="3" height="11"/>
<rect x="877" y="186" width="1" height="35"/><rect x="876" y="199" width="3" height="10"/>
<rect x="880" y="187" width="1" height="20"/><rect x="879" y="198" width="3" height="3"/>
<rect x="884" y="190" width="1" height="24"/><rect x="883" y="197" width="3" height="2"/>
<rect x="887" y="156" width="1" height="40"/><rect x="886" y="158" width="3" height="38"/>
<rect x="891" y="119" width="1" height="49"/><rect x="890" y="130" width="3" height="27"/>
</g>
<g fill="#ff0000">
<rect x="894" y="89" width="1" height="50"/><rect x="893" y="129" width="3" height="10"/>
</g>
<g fill="#0000ff">
<rect x="898" y="114" width="1" height="58"/><rect x="897" y="117" width="3" height="22"/>
</g>
<g fill="#ff0000">
<rect x="901" y="109" width="1" height="37"/><rect x="900" y="115" width="3" height="21"/>
</g>
<g fill="#0000ff">
<rect x="905" y="63" width="1" height="77"/><rect x="904" y="70" width="3" height="65"/>
</g>
<g fill="#ff0000">
<rect x="908" y="66" width="1" height="44"/><rect x="907" y="70" width="3" height="27"/>
</g>
<g fill="#0000ff">
<rect x="912" y="71" width="1" height="27"/><rect x="911" y="92" width="3" height="4"/>
<rect x="915" y="77" width="1" height="17"/><rect x="914" y="78" width="3" height="13"/>
<rect x="918" y="45" width="1" height="41"/><rect x="917" y="49" width="3" height="32"/>
</g>
<g fill="#960a0a">
<rect x="21" y="466" width="1" height="1"/>
<rect x="22" y="465" width="1" height="1"/>
<rect x="23" y="465" width="1" height="1"/>
<rect x="24" y="464" width="1" height="1"/>
<rect x="25" y="464" width="1" height="1"/>
<rect x="26" y="463" width="1" height="1"/>
<rect x="27" y="463" width="1" height="1"/>
<rect x="28" y="462" width="1" height="1"/>
<rect x="29" y="462" width="1" height="1"/>
<rect x="30" y="462" width="1" height="1"/>
<rect x="31" y="461" width="1" height="1"/>
<rect x="32" y="461" width="1" height="1"/>
<rect x="33" y="460" width="1" height="1"/>
<rect x="34" y="460" width="1" height="1"/>
<rect x="35" y="459" width="1" height="1"/>
<rect x="36" y="459" width="1" height="1"/>
<rect x="37" y="458" width="1" height="1"/>
<rect x="38" y="458" width="1" height="1"/>
<rect x="39" y="457" width="1" height="1"/>
<rect x="40" y="457" width="1" height="1"/>
<rect x="41" y="456" width="1" height="1"/>
<rect x="42" y="456" width="1" height="1"/>
<rect x="43" y="455" width="1" height="1"/>
<rect x="44" y="455" width="1" height="1"/>
<rect x="45" y="455" width="1" height="1"/>
<rect x="46" y="454" width="1" height="1"/>
<rect x="47" y="454" width="1" height="1"/>
<rect x="48" y="453" width="1" height="1"/>
<rect x="49" y="453" width="1" height="1"/>
<rect x="50" y="452" width="1" height="1"/>
<rect x="51" y="451" width="1" height="1"/>
<rect x="52" y="451" width="1" height="1"/>
<rect x="53" y="450" width="1" height="1"/>
<rect x="54" y="450" width="1" height="1"/>
<rect x="55" y="449" width="1" height="1"/>
<rect x="56" y="448" width="1" height="1"/>
<rect x="57" y="448" width="1" height="1"/>
<rect x="58" y="447" width="1" height="1"/>
<rect x="59" y="446" width="1" height="1"/>
<rect x="60" y="445" width="1" height="1"/>
<rect x="61" y="445" width="1" height="1"/>
<rect x="62" y="444" width="1" height="1"/>
<rect x="63" y="443" width="1" height="1"/>
<rect x="64" y="442" width="1" height="1"/>
<rect x="65" y="441" width="1" height="1"/>
<rect x="66" y="440" width="1" height="1"/>
<rect x="67" y="439" width="1" height="1"/>
<rect x="68" y="438" width="1" height="1"/>
<rect x="69" y="437" width="1" height="1"/>
<rect x="70" y="436" width="1" height="1"/>
<rect x="71" y="435" width="1" height="1"/>
<rect x="72" y="434" width="1" height="1"/>
<rect x="73" y="433" width="1" height="1"/>
<rect x="74" y="432" width="1" height="1"/>
<rect x="75" y="432" width="1" height="1"/>
<rect x="76" y="431" width="1" height="1"/>
<rect x="77" y="430" width="1" height="1"/>
<rect x="78" y="429" width="1" height="1"/>
<rect x="79" y="428" width="1" height="1"/>
<rect x="80" y="427" width="1" height="1"/>
<rect x="81" y="426" width="1" height="1"/>
<rect x="82" y="426" width="1" height="1"/>
<rect x="83" y="425" width="1" height="1"/>
<rect x="84" y="423" width="1" height="2"/>
<rect x="85" y="422" width="1" height="1"/>
<rect x="86" y="421" width="1" height="1"/>
<rect x="87" y="421" width="1" height="1"/>
<rect x="88" y="420" width="1" height="1"/>
<rect x="89" y="419" width="1" height="1"/>
<rect x="90" y="419" width="1" height="1"/>
<rect x="91" y="418" width="1" height="1"/>
<rect x="92" y="417" width="1" height="1"/>
<rect x="93" y="416" width="1" height="1"/>
<rect x="94" y="415" width="1" height="1"/>
<rect x="95" y="415" width="1" height="1"/>
<rect x="96" y="414" width="1" height="1"/>
<rect x="97" y="413" width="1" height="1"/>
<rect x="98" y="413" width="1" height="1"/>
<rect x="99" y="412" width="1" height="1"/>
<rect x="100" y="412" width="1" height="1"/>
<rect x="101" y="411" width="1" height="1"/>
<rect x="102" y="410" width="1" height="1"/>
<rect x="103" y="410" width="1" height="1"/>
<rect x="104" y="409" width="1" height="1"/>
<rect x="105" y="409" width="1" height="1"/>
<rect x="106" y="408" width="1" height="1"/>
<rect x="107" y="407" width="1" height="1"/>
<rect x="108" y="407" width="1" height="1"/>
<rect x="109" y="406" width="1" height="1"/>
<rect x="110" y="406" width="1" height="1"/>
<rect x="111" y="405" width="1" height="1"/>
<rect x="112" y="404" width="1" height="1"/>
<rect x="113" y="404" width="1" height="1"/>
<rect x="114" y="403" width="1" height="1"/>
<rect x="115" y="402" width="1" height="1"/>
<rect x="116" y="402" width="1" height="1"/>
<rect x="117" y="401" width="1" height="1"/>
<rect x="118" y="401" width="1" height="1"/>
<rect x="119" y="400" width="1" height="1"/>
<rect x="120" y="399" width="1" height="1"/>
<rect x="121" y="399" width="1" height="1"/>
<rect x="122" y="398" width="1" height="1"/>
<rect x="123" y="398" width="1" height="1"/>
<rect x="124" y="397" width="1" height="1"/>
<rect x="125" y="397" width="1" height="1"/>
<rect x="126" y="396" width="1" height="1"/>
<rect x="127" y="395" width="1" height="1"/>
<rect x="128" y="395" width="1" height="1"/>
<rect x="129" y="394" width="1" height="1"/>
<rect x="130" y="394" width="1" height="1"/>
<rect x="131" y="393" width="1" height="1"/>
<rect x="132" y="393" width="1" height="1"/>
<rect x="133" y="392" width="1" height="1"/>
<rect x="134" y="392" width="1" height="1"/>
<rect x="135" y="391" width="1" height="1"/>
<rect x="136" y="391" width="1" height="1"/>
<rect x="137" y="390" width="1" height="1"/>
<rect x="138" y="390" width="1" height="1"/>
<rect x="139" y="390" width="1" height="1"/>
<rect x="140" y="389" width="1" height="1"/>
<rect x="141" y="389" width="1" height="1"/>
<rect x="142" y="389" width="1" height="1"/>
<rect x="143" y="389" width="1" height="1"/>
<rect x="144" y="389" width="1" height="1"/>
<rect x="145" y="389" width="1" height="1"/>
<rect x="146" y="388" width="1" height="1"/>
<rect x="147" y="388" width="1" height="1"/>
<rect x="148" y="388" width="1" height="1"/>
<rect x="149" y="388" width="1" height="1"/>
<rect x="150" y="388" width="1" height="1"/>
<rect x="151" y="387" width="1" height="1"/>
<rect x="152" y="387" width="1" height="1"/>
<rect x="153" y="387" width="1" height="1"/>
<rect x="154" y="386" width="1" height="1"/>
<rect x="155" y="386" width="1" height="1"/>
<rect x="156" y="386" width="1" height="1"/>
<rect x="157" y="386" width="1" height="1"/>
<rect x="158" y="385" width="1" height="1"/>
<rect x="159" y="385" width="1" height="1"/>
<rect x="160" y="385" width="1" height="1"/>
<rect x="161" y="385" width="1" height="1"/>
<rect x="162" y="385" width="1" height="1"/>
<rect x="163" y="384" width="1" height="1"/>
<rect x="164" y="384" width="1" height="1"/>
<rect x="165" y="384" width="1" height="1"/>
<rect x="166" y="384" width="1" height="1"/>
<rect x="167" y="384" width="1" height="1"/>
<rect x="168" y="384" width="1" height="1"/>
<rect x="169" y="383" width="1" height="1"/>
<rect x="170" y="383" width="1" height="1"/>
<rect x="171" y="383" width="1" height="1"/>
<rect x="172" y="383" width="1" height="1"/>
<rect x="173" y="382" width="1" height="1"/>
<rect x="174" y="382" width="1" height="1"/>
<rect x="175" y="382" width="1" height="1"/>
<rect x="176" y="382" width="1" height="1"/>
<rect x="177" y="381" width="1" height="1"/>
<rect x="178" y="381" width="1" height="1"/>
<rect x="179" y="381" width="1" height="1"/>
<rect x="180" y="381" width="1" height="1"/>
<rect x="181" y="381" width="1" height="1"/>
<rect x="182" y="380" width="1" height="1"/>
<rect x="183" y="380" width="1" height="1"/>
<rect x="184" y="380" width="1" height="1"/>
<rect x="185" y="380" width="1" height="1"/>
<rect x="186" y="379" width="1" height="1"/>
<rect x="187" y="379" width="1" height="1"/>
<rect x="188" y="379" width="1" height="1"/>
<rect x="189" y="379" width="1" height="1"/>
<rect x="190" y="379" width="1" height="1"/>
<rect x="191" y="379" width="1" height="1"/>
<rect x="192" y="379" width="1" height="1"/>
<rect x="193" y="379" width="1" height="1"/>
<rect x="194" y="379" width="1" height="1"/>
<rect x="195" y="379" width="1" height="1"/>
<rect x="196" y="379" width="1" height="1"/>
<rect x="197" y="378" width="1" height="1"/>
<rect x="198" y="378" width="1" height="1"/>
<rect x="199" y="378" width="1" height="1"/>
<rect x="200" y="379" width="1" height="1"/>
<rect x="201" y="379" width="1" height="1"/>
<rect x="202" y="379" width="1" height="1"/>
<rect x="203" y="379" width="1" height="1"/>
<rect x="204" y="379" width="1" height="1"/>
<rect x="205" y="379" width="1" height="1"/>
<rect x="206" y="379" width="1" height="1"/>
<rect x="207" y="379" width="1" height="1"/>
<rect x="208" y="379" width="1" height="1"/>
<rect x="209" y="379" width="1" height="1"/>
<rect x="210" y="379" width="1" height="1"/>
<rect x="211" y="379" width="1" height="1"/>
<rect x="212" y="379" width="1" height="1"/>
<rect x="213" y="379" width="1" height="1"/>
<rect x="214" y="379" width="1" height="1"/>
<rect x="215" y="379" width="1" height="1"/>
<rect x="216" y="379" width="1" height="1"/>
<rect x="217" y="380" width="1" height="1"/>
<rect x="218" y="380" width="1" height="1"/>
<rect x="219" y="380" width="1" height="1"/>
<rect x="220" y="380" width="1" height="1"/>
<rect x="221" y="380" width="1" height="1"/>
<rect x="222" y="380" width="1" height="1"/>
<rect x="223" y="380" width="1" height="1"/>
<rect x="224" y="380" width="1" height="1"/>
<rect x="225" y="381" width="1" height="1"/>
<rect x="226" y="381" width="1" height="1"/>
<rect x="227" y="381" width="1" height="1"/>
<rect x="228" y="381" width="1" height="1"/>
<rect x="229" y="381" width="1" height="1"/>
<rect x="230" y="381" width="1" height="1"/>
<rect x="231" y="381" width="1" height="1"/>
<rect x="232" y="381" width="1" height="1"/>
<rect x="233" y="381" width="1" height="1"/>
<rect x="234" y="381" width="1" height="1"/>
<rect x="235" y="381" width="1" height="1"/>
<rect x="236" y="381" width="1" height="1"/>
<rect x="237" y="381" width="1" height="1"/>
<rect x="238" y="380" width="1" height="1"/>
<rect x="239" y="380" width="1" height="1"/>
<rect x="240" y="380" width="1" height="1"/>
<rect x="241" y="380" width="1" height="1"/>
<rect x="242" y="380" width="1" height="1"/>
<rect x="243" y="380" width="1" height="1"/>
<rect x="244" y="380" width="1" height="1"/>
<rect x="245" y="379" width="1" height="1"/>
<rect x="246" y="379" width="1" height="1"/>
<rect x="247" y="378" width="1" height="1"/>
<rect x="248" y="378" width="1" height="1"/>
<rect x="249" y="377" width="1" height="1"/>
<rect x="250" y="377" width="1" height="1"/>
<rect x="251" y="377" width="1" height="1"/>
<rect x="252" y="376" width="1" height="1"/>
<rect x="253" y="376" width="1" height="1"/>
<rect x="254" y="376" width="1" height="1"/>
<rect x="255" y="376" width="1" height="1"/>
<rect x="256" y="376" width="1" height="1"/>
<rect x="257" y="376" width="1" height="1"/>
<rect x="258" y="376" width="1" height="1"/>
<rect x="259" y="375" width="1" height="1"/>
<rect x="260" y="375" width="1" height="1"/>
<rect x="261" y="375" width="1" height="1"/>
<rect x="262" y="374" width="1" height="1"/>
<rect x="263" y="374" width="1" height="1"/>
<rect x="264" y="374" width="1" height="1"/>
<rect x="265" y="374" width="1" height="1"/>
<rect x="266" y="373" width="1" height="1"/>
<rect x="267" y="373" width="1" height="1"/>
<rect x="268" y="373" width="1" height="1"/>
<rect x="269" y="372" width="1" height="1"/>
<rect x="270" y="372" width="1" height="1"/>
<rect x="271" y="372" width="1" height="1"/>
<rect x="272" y="372" width="1" height="1"/>
<rect x="273" y="372" width="1" height="1"/>
<rect x="274" y="372" width="1" height="1"/>
<rect x="275" y="372" width="1" height="1"/>
<rect x="276" y="372" width="1" height="1"/>
<rect x="277" y="371" width="1" height="1"/>
<rect x="278" y="371" width="1" height="1"/>
<rect x="279" y="371" width="1" height="1"/>
<rect x="280" y="371" width="1" height="1"/>
<rect x="281" y="371" width="1" height="1"/>
<rect x="282" y="371" width="1" height="1"/>
<rect x="283" y="370" width="1" height="1"/>
<rect x="284" y="370" width="1" height="1"/>
<rect x="285" y="370" width="1" height="1"/>
<rect x="286" y="369" width="1" height="1"/>
<rect x="287" y="369" width="1" height="1"/>
<rect x="288" y="369" width="1" height="1"/>
<rect x="289" y="369" width="1" height="1"/>
<rect x="290" y="368" width="1" height="1"/>
<rect x="291" y="368" width="1" height="1"/>
<rect x="292" y="368" width="1" height="1"/>
<rect x="293" y="367" width="1" height="1"/>
<rect x="294" y="367" width="1" height="1"/>
<rect x="295" y="367" width="1" height="1"/>
<rect x="296" y="367" width="1" height="1"/>
<rect x="297" y="366" width="1" height="1"/>
<rect x="298" y="366" width="1" height="1"/>
<rect x="299" y="366" width="1" height="1"/>
<rect x="300" y="366" width="1" height="1"/>
<rect x="301" y="365" width="1" height="1"/>
<rect x="302" y="365" width="1" height="1"/>
<rect x="303" y="365" width="1" height="1"/>
<rect x="304" y="365" width="1" height="1"/>
<rect x="305" y="365" width="1" height="1"/>
<rect x="306" y="365" width="1" height="1"/>
<rect x="307" y="364" width="1" height="1"/>
<rect x="308" y="364" width="1" height="1"/>
<rect x="309" y="364" width="1" height="1"/>
<rect x="310" y="364" width="1" height="1"/>
<rect x="311" y="364" width="1" height="1"/>
<rect x="312" y="364" width="1" height="1"/>
<rect x="313" y="364" width="1" height="1"/>
<rect x="314" y="364" width="1" height="1"/>
<rect x="315" y="364" width="1" height="1"/>
<rect x="316" y="364" width="1" height="1"/>
<rect x="317" y="364" width="1" height="1"/>
<rect x="318" y="364" width="1" height="1"/>
<rect x="319" y="364" width="1" height="1"/>
<rect x="320" y="364" width="1" height="1"/>
<rect x="321" y="364" width="1" height="1"/>
<rect x="322" y="364" width="1" height="1"/>
<rect x="323" y="364" width="1" height="1"/>
<rect x="324" y="364" width="1" height="1"/>
<rect x="325" y="363" width="1" height="1"/>
<rect x="326" y="363" width="1" height="1"/>
<rect x="327" y="363" width="1" height="1"/>
<rect x="328" y="363" width="1" height="1"/>
<rect x="329" y="363" width="1" height="1"/>
<rect x="330" y="363" width="1" height="1"/>
<rect x="331" y="363" width="1" height="1"/>
<rect x="332" y="363" width="1" height="1"/>
<rect x="333" y="363" width="1" height="1"/>
<rect x="334" y="363" width="1" height="1"/>
<rect x="335" y="362" width="1" height="1"/>
<rect x="336" y="362" width="1" height="1"/>
<rect x="337" y="362" width="1" height="1"/>
<rect x="338" y="361" width="1" height="1"/>
<rect x="339" y="361" width="1" height="1"/>
<rect x="340" y="361" width="1" height="1"/>
<rect x="341" y="361" width="1" height="1"/>
<rect x="342" y="360" width="1" height="1"/>
<rect x="343" y="360" width="1" height="1"/>
<rect x="344" y="360" width="1" height="1"/>
<rect x="345" y="360" width="1" height="1"/>
<rect x="346" y="360" width="1" height="1"/>
<rect x="347" y="360" width="1" height="1"/>
<rect x="348" y="360" width="1" height="1"/>
<rect x="349" y="359" width="1" height="1"/>
<rect x="350" y="359" width="1" height="1"/>
<rect x="351" y="359" width="1" height="1"/>
<rect x="352" y="359" width="1" height="1"/>
<rect x="353" y="359" width="1" height="1"/>
<rect x="354" y="359" width="1" height="1"/>
<rect x="355" y="359" width="1" height="1"/>
<rect x="356" y="359" width="1" height="1"/>
<rect x="357" y="359" width="1" height="1"/>
<rect x="358" y="359" width="1" height="1"/>
<rect x="359" y="359" width="1" height="1"/>
<rect x="360" y="358" width="1" height="1"/>
<rect x="361" y="358" width="1" height="1"/>
<rect x="362" y="358" width="1" height="1"/>
<rect x="363" y="358" width="1" height="1"/>
<rect x="364" y="358" width="1" height="1"/>
<rect x="365" y="358" width="1" height="1"/>
<rect x="366" y="358" width="1" height="1"/>
<rect x="367" y="358" width="1" height="1"/>
<rect x="368" y="358" width="1" height="1"/>
<rect x="369" y="358" width="1" height="1"/>
<rect x="370" y="358" width="1" height="1"/>
<rect x="371" y="358" width="1" height="1"/>
<rect x="372" y="358" width="1" height="1"/>
<rect x="373" y="358" width="1" height="1"/>
<rect x="374" y="358" width="1" height="1"/>
<rect x="375" y="358" width="1" height="1"/>
<rect x="376" y="358" width="1" height="1"/>
<rect x="377" y="358" width="1" height="1"/>
<rect x="378" y="358" width="1" height="1"/>
<rect x="379" y="358" width="1" height="1"/>
<rect x="380" y="357" width="1" height="1"/>
<rect x="381" y="357" width="1" height="1"/>
<rect x="382" y="357" width="1" height="1"/>
<rect x="383" y="357" width="1" height="1"/>
<rect x="384" y="357" width="1" height="1"/>
<rect x="385" y="357" width="1" height="1"/>
<rect x="386" y="357" width="1" height="1"/>
<rect x="387" y="357" width="1" height="1"/>
<rect x="388" y="357" width="1" height="1"/>
<rect x="389" y="357" width="1" height="1"/>
<rect x="390" y="357" width="1" height="1"/>
<rect x="391" y="356" width="1" height="1"/>
<rect x="392" y="356" width="1" height="1"/>
<rect x="393" y="356" width="1" height="1"/>
<rect x="394" y="355" width="1" height="1"/>
<rect x="395" y="355" width="1" height="1"/>
<rect x="396" y="355" width="1" height="1"/>
<rect x="397" y="355" width="1" height="1"/>
<rect x="398" y="354" width="1" height="1"/>
<rect x="399" y="354" width="1" height="1"/>
<rect x="400" y="354" width="1" height="1"/>
<rect x="401" y="353" width="1" height="1"/>
<rect x="402" y="353" width="1" height="1"/>
<rect x="403" y="351" width="1" height="2"/>
<rect x="404" y="350" width="1" height="1"/>
<rect x="405" y="349" width="1" height="1"/>
<rect x="406" y="349" width="1" height="1"/>
<rect x="407" y="348" width="1" height="1"/>
<rect x="408" y="347" width="1" height="1"/>
<rect x="409" y="346" width="1" height="1"/>
<rect x="410" y="345" width="1" height="1"/>
<rect x="411" y="344" width="1" height="1"/>
<rect x="412" y="343" width="1" height="1"/>
<rect x="413" y="343" width="1" height="1"/>
<rect x="414" y="343" width="1" height="1"/>
<rect x="415" y="342" width="1" height="1"/>
<rect x="416" y="342" width="1" height="1"/>
<rect x="417" y="341" width="1" height="1"/>
<rect x="418" y="341" width="1" height="1"/>
<rect x="419" y="341" width="1" height="1"/>
<rect x="420" y="340" width="1" height="1"/>
<rect x="421" y="340" width="1" height="1"/>
<rect x="422" y="339" width="1" height="1"/>
<rect x="423" y="339" width="1" height="1"/>
<rect x="424" y="339" width="1" height="1"/>
<rect x="425" y="338" width="1" height="1"/>
<rect x="426" y="338" width="1" height="1"/>
<rect x="427" y="337" width="1" height="1"/>
<rect x="428" y="337" width="1" height="1"/>
<rect x="429" y="336" width="1" height="1"/>
<rect x="430" y="336" width="1" height="1"/>
<rect x="431" y="336" width="1" height="1"/>
<rect x="432" y="335" width="1" height="1"/>
<rect x="433" y="335" width="1" height="1"/>
<rect x="434" y="335" width="1" height="1"/>
<rect x="435" y="334" width="1" height="1"/>
<rect x="436" y="334" width="1" height="1"/>
<rect x="437" y="334" width="1" height="1"/>
<rect x="438" y="333" width="1" height="1"/>
<rect x="439" y="333" width="1" height="1"/>
<rect x="440" y="332" width="1" height="1"/>
<rect x="441" y="332" width="1" height="1"/>
<rect x="442" y="332" width="1" height="1"/>
<rect x="443" y="331" width="1" height="1"/>
<rect x="444" y="331" width="1" height="1"/>
<rect x="445" y="330" width="1" height="1"/>
<rect x="446" y="330" width="1" height="1"/>
<rect x="447" y="329" width="1" height="1"/>
<rect x="448" y="329" width="1" height="1"/>
<rect x="449" y="329" width="1" height="1"/>
<rect x="450" y="328" width="1" height="1"/>
<rect x="451" y="328" width="1" height="1"/>
<rect x="452" y="327" width="1" height="1"/>
<rect x="453" y="327" width="1" height="1"/>
<rect x="454" y="327" width="1" height="1"/>
<rect x="455" y="326" width="1" height="1"/>
<rect x="456" y="326" width="1" height="1"/>
<rect x="457" y="325" width="1" height="1"/>
<rect x="458" y="325" width="1" height="1"/>
<rect x="459" y="324" width="1" height="1"/>
<rect x="460" y="324" width="1" height="1"/>
<rect x="461" y="323" width="1" height="1"/>
<rect x="462" y="322" width="1" height="1"/>
<rect x="463" y="321" width="1" height="1"/>
<rect x="464" y="320" width="1" height="1"/>
<rect x="465" y="320" width="1" height="1"/>
<rect x="466" y="319" width="1" height="1"/>
<rect x="467" y="318" width="1" height="1"/>
<rect x="468" y="318" width="1" height="1"/>
<rect x="469" y="317" width="1" height="1"/>
<rect x="470" y="317" width="1" height="1"/>
<rect x="471" y="316" width="1" height="1"/>
<rect x="472" y="316" width="1" height="1"/>
<rect x="473" y="316" width="1" height="1"/>
<rect x="474" y="315" width="1" height="1"/>
<rect x="475" y="315" width="1" height="1"/>
<rect x="476" y="314" width="1" height="1"/>
<rect x="477" y="314" width="1" height="1"/>
<rect x="478" y="314" width="1" height="1"/>
<rect x="479" y="314" width="1" height="1"/>
<rect x="480" y="314" width="1" height="1"/>
<rect x="481" y="314" width="1" height="1"/>
<rect x="482" y="314" width="1" height="1"/>
<rect x="483" y="314" width="1" height="1"/>
<rect x="484" y="314" width="1" height="1"/>
<rect x="485" y="314" width="1" height="1"/>
<rect x="486" y="315" width="1" height="1"/>
<rect x="487" y="315" width="1" height="1"/>
<rect x="488" y="316" width="1" height="1"/>
<rect x="489" y="316" width="1" height="1"/>
<rect x="490" y="316" width="1" height="1"/>
<rect x="491" y="316" width="1" height="1"/>
<rect x="492" y="317" width="1" height="1"/>
<rect x="493" y="317" width="1" height="1"/>
<rect x="494" y="318" width="1" height="1"/>
<rect x="495" y="318" width="1" height="1"/>
<rect x="496" y="318" width="1" height="1"/>
<rect x="497" y="319" width="1" height="1"/>
<rect x="498" y="319" width="1" height="1"/>
<rect x="499" y="320" width="1" height="1"/>
<rect x="500" y="320" width="1" height="1"/>
<rect x="501" y="321" width="1" height="1"/>
<rect x="502" y="321" width="1" height="1"/>
<rect x="503" y="322" width="1" height="1"/>
<rect x="504" y="322" width="1" height="1"/>
<rect x="505" y="323" width="1" height="1"/>
<rect x="506" y="323" width="1" height="1"/>
<rect x="507" y="324" width="1" height="1"/>
<rect x="508" y="325" width="1" height="1"/>
<rect x="509" y="325" width="1" height="1"/>
<rect x="510" y="326" width="1" height="1"/>
<rect x="511" y="327" width="1" height="1"/>
<rect x="512" y="328" width="1" height="1"/>
<rect x="513" y="329" width="1" height="1"/>
<rect x="514" y="329" width="1" height="1"/>
<rect x="515" y="330" width="1" height="1"/>
<rect x="516" y="331" width="1" height="1"/>
<rect x="517" y="332" width="1" height="1"/>
<rect x="518" y="333" width="1" height="1"/>
<rect x="519" y="333" width="1" height="1"/>
<rect x="520" y="334" width="1" height="1"/>
<rect x="521" y="335" width="1" height="2"/>
<rect x="522" y="337" width="1" height="1"/>
<rect x="523" y="338" width="1" height="1"/>
<rect x="524" y="339" width="1" height="1"/>
<rect x="525" y="340" width="1" height="1"/>
<rect x="526" y="341" width="1" height="1"/>
<rect x="527" y="341" width="1" height="1"/>
<rect x="528" y="342" width="1" height="1"/>
<rect x="529" y="343" width="1" height="1"/>
<rect x="530" y="344" width="1" height="1"/>
<rect x="531" y="345" width="1" height="1"/>
<rect x="532" y="346" width="1" height="1"/>
<rect x="533" y="346" width="1" height="1"/>
<rect x="534" y="347" width="1" height="1"/>
<rect x="535" y="348" width="1" height="1"/>
<rect x="536" y="349" width="1" height="2"/>
<rect x="537" y="351" width="1" height="1"/>
<rect x="538" y="352" width="1" height="1"/>
<rect x="539" y="353" width="1" height="1"/>
<rect x="540" y="354" width="1" height="1"/>
<rect x="541" y="355" width="1" height="1"/>
<rect x="542" y="356" width="1" height="1"/>
<rect x="543" y="357" width="1" height="2"/>
<rect x="544" y="359" width="1" height="2"/>
<rect x="545" y="361" width="1" height="2"/>
<rect x="546" y="363" width="1" height="2"/>
<rect x="547" y="365" width="1" height="2"/>
<rect x="548" y="367" width="1" height="2"/>
<rect x="549" y="369" width="1" height="2"/>
<rect x="550" y="371" width="1" height="2"/>
<rect x="551" y="373" width="1" height="2"/>
<rect x="552" y="375" width="1" height="2"/>
<rect x="553" y="377" width="1" height="1"/>
<rect x="554" y="378" width="1" height="1"/>
<rect x="555" y="379" width="1" height="1"/>
<rect x="556" y="380" width="1" height="1"/>
<rect x="557" y="381" width="1" height="1"/>
<rect x="558" y="382" width="1" height="1"/>
<rect x="559" y="383" width="1" height="2"/>
<rect x="560" y="385" width="1" height="2"/>
<rect x="561" y="387" width="1" height="2"/>
<rect x="562" y="389" width="1" height="1"/>
<rect x="563" y="390" width="1" height="1"/>
<rect x="564" y="391" width="1" height="1"/>
<rect x="565" y="392" width="1" height="1"/>
<rect x="566" y="393" width="1" height="2"/>
<rect x="567" y="395" width="1" height="1"/>
<rect x="568" y="396" width="1" height="1"/>
<rect x="569" y="397" width="1" height="1"/>
<rect x="570" y="398" width="1" height="1"/>
<rect x="571" y="399" width="1" height="1"/>
<rect x="572" y="400" width="1" height="2"/>
<rect x="573" y="402" width="1" height="1"/>
<rect x="574" y="403" width="1" height="1"/>
<rect x="575" y="404" width="1" height="1"/>
<rect x="576" y="405" width="1" height="1"/>
<rect x="577" y="406" width="1" height="2"/>
<rect x="578" y="408" width="1" height="1"/>
<rect x="579" y="409" width="1" height="1"/>
<rect x="580" y="410" width="1" height="1"/>
<rect x="581" y="411" width="1" height="1"/>
<rect x="582" y="412" width="1" height="1"/>
<rect x="583" y="413" width="1" height="1"/>
<rect x="584" y="414" width="1" height="2"/>
<rect x="585" y="416" width="1" height="1"/>
<rect x="586" y="417" width="1" height="1"/>
<rect x="587" y="418" width="1" height="1"/>
<rect x="588" y="419" width="1" height="1"/>
<rect x="589" y="420" width="1" height="1"/>
<rect x="590" y="421" width="1" height="2"/>
<rect x="591" y="423" width="1" height="1"/>
<rect x="592" y="424" width="1" height="1"/>
<rect x="593" y="425" width="1" height="1"/>
<rect x="594" y="426" width="1" height="1"/>
<rect x="595" y="427" width="1" height="1"/>
<rect x="596" y="428" width="1" height="1"/>
<rect x="597" y="429" width="1" height="1"/>
<rect x="598" y="430" width="1" height="2"/>
<rect x="599" y="432" width="1" height="1"/>
<rect x="600" y="433" width="1" height="1"/>
<rect x="601" y="434" width="1" height="1"/>
<rect x="602" y="435" width="1" height="1"/>
<rect x="603" y="436" width="1" height="1"/>
<rect x="604" y="437" width="1" height="2"/>
<rect x="605" y="439" width="1" height="1"/>
<rect x="606" y="440" width="1" height="1"/>
<rect x="607" y="441" width="1" height="1"/>
<rect x="608" y="442" width="1" height="2"/>
<rect x="609" y="444" width="1" height="1"/>
<rect x="610" y="445" width="1" height="1"/>
<rect x="611" y="446" width="1" height="2"/>
<rect x="612" y="448" width="1" height="1"/>
<rect x="613" y="449" width="1" height="1"/>
<rect x="614" y="450" width="1" height="1"/>
<rect x="615" y="451" width="1" height="2"/>
<rect x="616" y="453" width="1" height="1"/>
<rect x="617" y="454" width="1" height="1"/>
<rect x="618" y="455" width="1" height="1"/>
<rect x="619" y="456" width="1" height="1"/>
<rect x="620" y="457" width="1" height="1"/>
<rect x="621" y="458" width="1" height="1"/>
<rect x="622" y="458" width="1" height="1"/>
<rect x="623" y="459" width="1" height="1"/>
<rect x="624" y="460" width="1" height="1"/>
<rect x="625" y="460" width="1" height="1"/>
<rect x="626" y="461" width="1" height="1"/>
<rect x="627" y="461" width="1" height="1"/>
<rect x="628" y="462" width="1" height="1"/>
<rect x="629" y="462" width="1" height="1"/>
<rect x="630" y="463" width="1" height="1"/>
<rect x="631" y="463" width="1" height="1"/>
<rect x="632" y="463" width="1" height="1"/>
<rect x="633" y="464" width="1" height="1"/>
<rect x="634" y="464" width="1" height="1"/>
<rect x="635" y="464" width="1" height="1"/>
<rect x="636" y="464" width="1" height="1"/>
<rect x="637" y="465" width="1" height="1"/>
<rect x="638" y="465" width="1" height="1"/>
<rect x="639" y="465" width="1" height="1"/>
<rect x="640" y="465" width="1" height="1"/>
<rect x="641" y="465" width="1" height="1"/>
<rect x="642" y="466" width="1" height="1"/>
<rect x="643" y="466" width="1" height="1"/>
<rect x="644" y="466" width="1" height="1"/>
<rect x="645" y="466" width="1" height="1"/>
<rect x="646" y="466" width="1" height="1"/>
<rect x="647" y="466" width="1" height="1"/>
<rect x="648" y="466" width="1" height="1"/>
<rect x="649" y="466" width="1" height="1"/>
<rect x="650" y="466" width="1" height="1"/>
<rect x="651" y="466" width="1" height="1"/>
<rect x="652" y="466" width="1" height="1"/>
<rect x="653" y="466" width="1" height="1"/>
<rect x="654" y="466" width="1" height="1"/>
<rect x="655" y="465" width="1" height="1"/>
<rect x="656" y="465" width="1" height="1"/>
<rect x="657" y="465" width="1" height="1"/>
<rect x="658" y="464" width="1" height="1"/>
<rect x="659" y="464" width="1" height="1"/>
<rect x="660" y="464" width="1" height="1"/>
<rect x="661" y="464" width="1" height="1"/>
<rect x="662" y="463" width="1" height="1"/>
<rect x="663" y="463" width="1" height="1"/>
<rect x="664" y="462" width="1" height="1"/>
<rect x="665" y="462" width="1" height="1"/>
<rect x="666" y="462" width="1" height="1"/>
<rect x="667" y="461" width="1" height="1"/>
<rect x="668" y="461" width="1" height="1"/>
<rect x="669" y="460" width="1" height="1"/>
<rect x="670" y="460" width="1" height="1"/>
<rect x="671" y="459" width="1" height="1"/>
<rect x="672" y="459" width="1" height="1"/>
<rect x="673" y="458" width="1" height="1"/>
<rect x="674" y="458" width="1" height="1"/>
<rect x="675" y="458" width="1" height="1"/>
<rect x="676" y="457" width="1" height="1"/>
<rect x="677" y="457" width="1" height="1"/>
<rect x="678" y="457" width="1" height="1"/>
<rect x="679" y="456" width="1" height="1"/>
<rect x="680" y="456" width="1" height="1"/>
<rect x="681" y="456" width="1" height="1"/>
<rect x="682" y="455" width="1" height="1"/>
<rect x="683" y="455" width="1" height="1"/>
<rect x="684" y="454" width="1" height="1"/>
<rect x="685" y="454" width="1" height="1"/>
<rect x="686" y="453" width="1" height="1"/>
<rect x="687" y="452" width="1" height="1"/>
<rect x="688" y="452" width="1" height="1"/>
<rect x="689" y="451" width="1" height="1"/>
<rect x="690" y="450" width="1" height="1"/>
<rect x="691" y="450" width="1" height="1"/>
<rect x="692" y="449" width="1" height="1"/>
<rect x="693" y="448" width="1" height="1"/>
<rect x="694" y="448" width="1" height="1"/>
<rect x="695" y="447" width="1" height="1"/>
<rect x="696" y="446" width="1" height="1"/>
<rect x="697" y="446" width="1" height="1"/>
<rect x="698" y="445" width="1" height="1"/>
<rect x="699" y="444" width="1" height="1"/>
<rect x="700" y="443" width="1" height="1"/>
<rect x="701" y="443" width="1" height="1"/>
<rect x="702" y="442" width="1" height="1"/>
<rect x="703" y="441" width="1" height="1"/>
<rect x="704" y="441" width="1" height="1"/>
<rect x="705" y="440" width="1" height="1"/>
<rect x="706" y="439" width="1" height="1"/>
<rect x="707" y="438" width="1" height="1"/>
<rect x="708" y="437" width="1" height="1"/>
<rect x="709" y="437" width="1" height="1"/>
<rect x="710" y="436" width="1" height="1"/>
<rect x="711" y="435" width="1" height="1"/>
<rect x="712" y="434" width="1" height="1"/>
<rect x="713" y="434" width="1" height="1"/>
<rect x="714" y="433" width="1" height="1"/>
<rect x="715" y="432" width="1" height="1"/>
<rect x="716" y="432" width="1" height="1"/>
<rect x="717" y="431" width="1" height="1"/>
<rect x="718" y="430" width="1" height="1"/>
<rect x="719" y="429" width="1" height="1"/>
<rect x="720" y="428" width="1" height="1"/>
<rect x="721" y="427" width="1" height="1"/>
<rect x="722" y="426" width="1" height="1"/>
<rect x="723" y="425" width="1" height="1"/>
<rect x="724" y="425" width="1" height="1"/>
<rect x="725" y="424" width="1" height="1"/>
<rect x="726" y="423" width="1" height="1"/>
<rect x="727" y="422" width="1" height="1"/>
<rect x="728" y="421" width="1" height="1"/>
<rect x="729" y="420" width="1" height="1"/>
<rect x="730" y="419" width="1" height="1"/>
<rect x="731" y="419" width="1" height="1"/>
<rect x="732" y="418" width="1" height="1"/>
<rect x="733" y="417" width="1" height="1"/>
<rect x="734" y="416" width="1" height="1"/>
<rect x="735" y="416" width="1" height="1"/>
<rect x="736" y="415" width="1" height="1"/>
<rect x="737" y="414" width="1" height="1"/>
<rect x="738" y="413" width="1" height="1"/>
<rect x="739" y="412" width="1" height="1"/>
<rect x="740" y="411" width="1" height="1"/>
<rect x="741" y="410" width="1" height="1"/>
<rect x="742" y="409" width="1" height="1"/>
<rect x="743" y="408" width="1" height="1"/>
<rect x="744" y="407" width="1" height="1"/>
<rect x="745" y="406" width="1" height="1"/>
<rect x="746" y="404" width="1" height="2"/>
<rect x="747" y="403" width="1" height="1"/>
<rect x="748" y="402" width="1" height="1"/>
<rect x="749" y="401" width="1" height="1"/>
<rect x="750" y="400" width="1" height="1"/>
<rect x="751" y="399" width="1" height="1"/>
<rect x="752" y="398" width="1" height="1"/>
<rect x="753" y="397" width="1" height="1"/>
<rect x="754" y="396" width="1" height="1"/>
<rect x="755" y="395" width="1" height="1"/>
<rect x="756" y="394" width="1" height="1"/>
<rect x="757" y="393" width="1" height="1"/>
<rect x="758" y="392" width="1" height="1"/>
<rect x="759" y="391" width="1" height="1"/>
<rect x="760" y="390" width="1" height="1"/>
<rect x="761" y="389" width="1" height="1"/>
<rect x="762" y="388" width="1" height="1"/>
<rect x="763" y="387" width="1" height="1"/>
<rect x="764" y="386" width="1" height="1"/>
<rect x="765" y="385" width="1" height="1"/>
<rect x="766" y="384" width="1" height="1"/>
<rect x="767" y="383" width="1" height="1"/>
<rect x="768" y="381" width="1" height="2"/>
<rect x="769" y="380" width="1" height="1"/>
<rect x="770" y="379" width="1" height="1"/>
<rect x="771" y="378" width="1" height="1"/>
<rect x="772" y="377" width="1" height="1"/>
<rect x="773" y="376" width="1" height="1"/>
<rect x="774" y="374" width="1" height="2"/>
<rect x="775" y="373" width="1" height="1"/>
<rect x="776" y="372" width="1" height="1"/>
<rect x="777" y="371" width="1" height="1"/>
<rect x="778" y="370" width="1" height="1"/>
<rect x="779" y="370" width="1" height="1"/>
<rect x="780" y="369" width="1" height="1"/>
<rect x="781" y="368" width="1" height="1"/>
<rect x="782" y="366" width="1" height="2"/>
<rect x="783" y="364" width="1" height="2"/>
<rect x="784" y="363" width="1" height="1"/>
<rect x="785" y="362" width="1" height="1"/>
<rect x="786" y="361" width="1" height="1"/>
<rect x="787" y="360" width="1" height="1"/>
<rect x="788" y="359" width="1" height="1"/>
<rect x="789" y="357" width="1" height="2"/>
<rect x="790" y="356" width="1" height="1"/>
<rect x="791" y="354" width="1" height="2"/>
<rect x="792" y="353" width="1" height="1"/>
<rect x="793" y="351" width="1" height="2"/>
<rect x="794" y="350" width="1" height="1"/>
<rect x="795" y="348" width="1" height="2"/>
<rect x="796" y="346" width="1" height="2"/>
<rect x="797" y="345" width="1" height="1"/>
<rect x="798" y="343" width="1" height="2"/>
<rect x="799" y="342" width="1" height="1"/>
<rect x="800" y="340" width="1" height="2"/>
<rect x="801" y="339" width="1" height="1"/>
<rect x="802" y="338" width="1" height="1"/>
<rect x="803" y="336" width="1" height="2"/>
<rect x="804" y="335" width="1" height="1"/>
<rect x="805" y="334" width="1" height="1"/>
<rect x="806" y="333" width="1" height="1"/>
<rect x="807" y="332" width="1" height="1"/>
<rect x="808" y="331" width="1" height="1"/>
<rect x="809" y="330" width="1" height="1"/>
<rect x="810" y="329" width="1" height="1"/>
<rect x="811" y="328" width="1" height="1"/>
<rect x="812" y="327" width="1" height="1"/>
<rect x="813" y="326" width="1" height="1"/>
<rect x="814" y="325" width="1" height="1"/>
<rect x="815" y="324" width="1" height="1"/>
<rect x="816" y="324" width="1" height="1"/>
<rect x="817" y="323" width="1" height="1"/>
<rect x="818" y="322" width="1" height="1"/>
<rect x="819" y="321" width="1" height="1"/>
<rect x="820" y="320" width="1" height="1"/>
<rect x="821" y="319" width="1" height="1"/>
<rect x="822" y="318" width="1" height="1"/>
<rect x="823" y="317" width="1" height="1"/>
<rect x="824" y="316" width="1" height="1"/>
<rect x="825" y="316" width="1" height="1"/>
<rect x="826" y="315" width="1" height="1"/>
<rect x="827" y="314" width="1" height="1"/>
<rect x="828" y="313" width="1" height="1"/>
<rect x="829" y="312" width="1" height="1"/>
<rect x="830" y="312" width="1" height="1"/>
<rect x="831" y="311" width="1" height="1"/>
<rect x="832" y="310" width="1" height="1"/>
<rect x="833" y="309" width="1" height="1"/>
<rect x="834" y="309" width="1" height="1"/>
<rect x="835" y="308" width="1" height="1"/>
<rect x="836" y="307" width="1" height="1"/>
<rect x="837" y="307" width="1" height="1"/>
<rect x="838" y="306" width="1" height="1"/>
<rect x="839" y="306" width="1" height="1"/>
<rect x="840" y="305" width="1" height="1"/>
<rect x="841" y="304" width="1" height="1"/>
<rect x="842" y="303" width="1" height="1"/>
<rect x="843" y="302" width="1" height="1"/>
<rect x="844" y="302" width="1" height="1"/>
<rect x="845" y="301" width="1" height="1"/>
<rect x="846" y="300" width="1" height="1"/>
<rect x="847" y="299" width="1" height="1"/>
<rect x="848" y="299" width="1" height="1"/>
<rect x="849" y="298" width="1" height="1"/>
<rect x="850" y="297" width="1" height="1"/>
<rect x="851" y="297" width="1" height="1"/>
<rect x="852" y="296" width="1" height="1"/>
<rect x="853" y="295" width="1" height="1"/>
<rect x="854" y="294" width="1" height="1"/>
<rect x="855" y="293" width="1" height="1"/>
<rect x="856" y="293" width="1" height="1"/>
<rect x="857" y="292" width="1" height="1"/>
<rect x="858" y="291" width="1" height="1"/>
<rect x="859" y="291" width="1" height="1"/>
<rect x="860" y="290" width="1" height="1"/>
<rect x="861" y="290" width="1" height="1"/>
<rect x="862" y="289" width="1" height="1"/>
<rect x="863" y="288" width="1" height="1"/>
<rect x="864" y="287" width="1" height="1"/>
<rect x="865" y="286" width="1" height="1"/>
<rect x="866" y="285" width="1" height="1"/>
<rect x="867" y="283" width="1" height="2"/>
<rect x="868" y="282" width="1" height="1"/>
<rect x="869" y="281" width="1" height="1"/>
<rect x="870" y="280" width="1" height="1"/>
<rect x="871" y="279" width="1" height="1"/>
<rect x="872" y="278" width="1" height="1"/>
<rect x="873" y="277" width="1" height="1"/>
<rect x="874" y="276" width="1" height="1"/>
<rect x="875" y="275" width="1" height="1"/>
<rect x="876" y="274" width="1" height="1"/>
<rect x="877" y="274" width="1" height="1"/>
<rect x="878" y="273" width="1" height="1"/>
<rect x="879" y="272" width="1" height="1"/>
<rect x="880" y="271" width="1" height="1"/>
<rect x="881" y="270" width="1" height="1"/>
<rect x="882" y="270" width="1" height="1"/>
<rect x="883" y="269" width="1" height="1"/>
<rect x="884" y="268" width="1" height="1"/>
<rect x="885" y="267" width="1" height="1"/>
<rect x="886" y="266" width="1" height="1"/>
<rect x="887" y="265" width="1" height="1"/>
<rect x="888" y="264" width="1" height="1"/>
<rect x="889" y="264" width="1" height="1"/>
<rect x="890" y="263" width="1" height="1"/>
<rect x="891" y="261" width="1" height="2"/>
<rect x="892" y="259" width="1" height="2"/>
<rect x="893" y="258" width="1" height="1"/>
<rect x="894" y="257" width="1" height="1"/>
<rect x="895" y="256" width="1" height="1"/>
<rect x="896" y="255" width="1" height="1"/>
<rect x="897" y="254" width="1" height="1"/>
<rect x="898" y="253" width="1" height="1"/>
<rect x="899" y="252" width="1" height="1"/>
<rect x="900" y="250" width="1" height="2"/>
<rect x="901" y="248" width="1" height="2"/>
<rect x="902" y="247" width="1" height="1"/>
<rect x="903" y="245" width="1" height="2"/>
<rect x="904" y="244" width="1" height="1"/>
<rect x="905" y="242" width="1" height="2"/>
<rect x="906" y="241" width="1" height="1"/>
<rect x="907" y="240" width="1" height="1"/>
<rect x="908" y="238" width="1" height="2"/>
<rect x="909" y="237" width="1" height="1"/>
<rect x="910" y="235" width="1" height="2"/>
<rect x="911" y="234" width="1" height="1"/>
<rect x="912" y="233" width="1" height="1"/>
<rect x="913" y="231" width="1" height="2"/>
<rect x="914" y="230" width="1" height="1"/>
<rect x="915" y="228" width="1" height="2"/>
<rect x="916" y="227" width="1" height="1"/>
<rect x="917" y="225" width="1" height="2"/>
<rect x="918" y="223" width="1" height="2"/>
</g>
</svg>
<div class="t title" style="left:18.5px;letter-spacing:-0.2px;">Palladium NYME 1st Month Continuation (PA1) 800 <span style="color:#0000ff">+13.80</span></div>
<div class="t title" style="left:667px;letter-spacing:-0.25px;">www.fullermoney.com</div>
<div class="t title" style="left:836.5px;letter-spacing:-0.03px;">31 Dec 2010</div>
<div class="t leg" style="top:28px;color:#0000ff;">Weekly</div>
<div class="t leg" style="top:45px;color:#960a0a;">MA 200</div>
<div class="t ax" style="left:931px;top:43px;">800</div>
<div class="t ax" style="left:931px;top:114px;">700</div>
<div class="t ax" style="left:931px;top:184px;">600</div>
<div class="t ax" style="left:931px;top:255px;">500</div>
<div class="t ax" style="left:931px;top:326px;">400</div>
<div class="t ax" style="left:931px;top:397px;">300</div>
<div class="t ax" style="left:931px;top:468px;">200</div>
<div class="t xl" style="left:29.5px;">Apr</div>
<div class="t xl" style="left:74.5px;">Jul</div>
<div class="t xl" style="left:120.5px;">Oct</div>
<div class="t xl" style="left:165.5px;">2007</div>
<div class="t xl" style="left:210.5px;">Apr</div>
<div class="t xl" style="left:255.5px;">Jul</div>
<div class="t xl" style="left:300.5px;">Oct</div>
<div class="t xl" style="left:346.5px;">2008</div>
<div class="t xl" style="left:391.5px;">Apr</div>
<div class="t xl" style="left:436.5px;">Jul</div>
<div class="t xl" style="left:481.5px;">Oct</div>
<div class="t xl" style="left:527.5px;">2009</div>
<div class="t xl" style="left:572.5px;">Apr</div>
<div class="t xl" style="left:617.5px;">Jul</div>
<div class="t xl" style="left:662.5px;">Oct</div>
<div class="t xl" style="left:708.5px;">2010</div>
<div class="t xl" style="left:753.5px;">Apr</div>
<div class="t xl" style="left:798.5px;">Jul</div>
<div class="t xl" style="left:843.5px;">Oct</div>
<div class="t xl" style="left:889.5px;">2011</div>
<div class="t copy">© 2010 Stockcube Research Ltd</div>
</body></html>
